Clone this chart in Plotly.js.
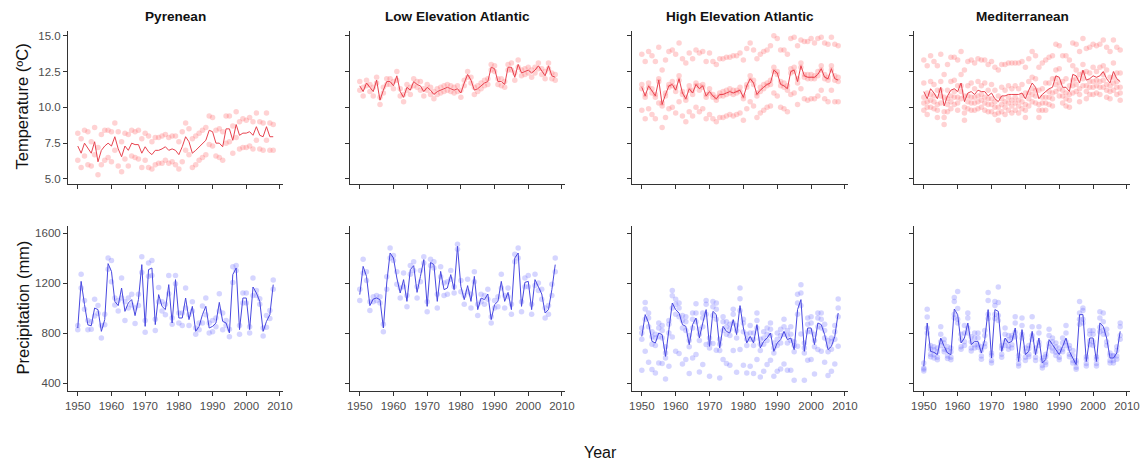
<!DOCTYPE html>
<html>
<head>
<meta charset="utf-8">
<script src="https://cdn.plot.ly/plotly-3.0.1.min.js"></script>
<style>
  html, body { margin: 0; padding: 0; background: #ffffff; }
  #chart { width: 1147px; height: 465px; }
</style>
</head>
<body>
<div id="chart"></div>
<script>
// ---- Data -------------------------------------------------------------
const years = [1950,1951,1952,1953,1954,1955,1956,1957,1958,1959,
               1960,1961,1962,1963,1964,1965,1966,1967,1968,1969,
               1970,1971,1972,1973,1974,1975,1976,1977,1978,1979,
               1980,1981,1982,1983,1984,1985,1986,1987,1988,1989,
               1990,1991,1992,1993,1994,1995,1996,1997,1998,1999,
               2000,2001,2002,2003,2004,2005,2006,2007,2008];

const regions = ["Pyrenean", "Low Elevation Atlantic", "High Elevation Atlantic", "Mediterranean"];

const xTicks = [1950, 1960, 1970, 1980, 1990, 2000, 2010];
const tempTicks = [5, 7.5, 10, 12.5, 15];
const tempTickText = ["5.0", "7.5", "10.0", "12.5", "15.0"];
const prcpTicks = [400, 800, 1200, 1600];

// Pyrenean temperature (ºC): regional mean and stations
const pyrTempMean = [7.3,6.8,7.5,7.1,6.8,7.6,6.2,7.0,7.3,7.5,
  7.3,7.95,7.1,6.55,7.3,7.0,7.5,7.4,7.4,6.8,
  7.25,6.9,6.7,7.0,7.0,7.1,7.25,7.0,7.1,7.0,
  6.7,7.25,7.95,7.6,6.8,7.0,7.25,7.5,7.7,8.4,
  8.3,7.5,7.5,7.25,8.5,8.5,7.7,8.8,8.05,8.2,
  8.2,8.3,8.05,8.65,8.05,7.95,8.65,7.95,7.95];
const pyrTempA = [8.2,7.8,8.4,8.3,7.6,8.6,7.2,8.1,8.4,8.4,
  8.3,8.9,8.3,7.6,8.2,8.1,8.4,8.3,8.4,7.8,
  8.2,8.0,7.6,7.9,7.9,8.0,8.1,7.9,8.0,8.0,
  7.6,8.3,8.9,8.5,7.8,8.0,8.2,8.4,8.6,9.4,
  9.3,8.4,8.5,8.3,9.4,9.4,8.7,9.7,9.0,9.2,
  9.1,9.3,9.0,9.6,9.0,8.9,9.6,8.9,8.8];
const pyrTempB = [6.3,5.8,6.6,6.0,5.9,6.7,5.3,6.0,6.3,6.5,
  6.2,7.0,5.9,5.5,6.4,5.9,6.6,6.5,6.4,5.8,
  6.3,5.8,5.7,6.0,6.1,6.1,6.3,6.1,6.2,6.0,
  5.7,6.2,7.0,6.7,5.8,6.0,6.3,6.5,6.7,7.4,
  7.3,6.6,6.5,6.3,7.5,7.6,6.8,7.9,7.1,7.2,
  7.2,7.3,7.1,7.7,7.1,7.0,7.7,7.0,7.0];

// Low Elevation Atlantic temperature
const leaTempMean = [11.5,11.1,11.7,11.4,11.1,11.9,10.5,11.2,11.8,11.8,
  11.5,12.2,11.1,10.7,11.4,11.2,11.8,11.6,11.5,11.1,
  11.4,11.2,10.9,11.1,11.2,11.3,11.4,11.3,11.2,11.3,
  11.0,11.7,12.3,11.9,11.2,11.3,11.5,11.7,11.8,12.8,
  12.7,11.8,11.8,11.6,12.8,12.8,12.1,13.0,12.4,12.5,
  12.6,12.4,12.6,12.9,12.5,12.2,12.9,12.2,12.1];
const leaTempA = [11.8,11.4,11.9,11.6,11.4,12.1,10.7,11.4,12.0,12.0,
  11.8,12.5,11.3,10.9,11.6,11.4,12.0,11.8,11.8,11.3,
  11.6,11.4,11.1,11.3,11.4,11.5,11.6,11.5,11.4,11.5,
  11.2,11.9,12.5,12.1,11.4,11.5,11.7,11.9,12.0,13.0,
  12.9,12.0,12.0,11.8,13.0,13.1,12.4,13.3,12.6,12.7,
  12.8,12.6,12.8,13.1,12.7,12.5,13.1,12.4,12.3];
const leaTempB = [11.2,10.8,11.5,11.1,10.8,11.7,10.2,11.0,11.6,11.6,
  11.3,11.9,10.8,10.4,11.2,10.9,11.5,11.4,11.2,10.8,
  11.2,10.9,10.6,10.9,11.0,11.1,11.2,11.1,11.0,11.1,
  10.7,11.5,12.1,11.7,10.9,11.1,11.3,11.5,11.6,12.6,
  12.5,11.6,11.5,11.4,12.6,12.6,11.9,12.8,12.2,12.3,
  12.4,12.1,12.4,12.7,12.3,12.0,12.7,12.0,11.9];

// High Elevation Atlantic temperature
const heaTempMean = [11.4,10.8,11.5,11.1,10.8,11.9,10.2,10.9,11.5,11.6,
  11.2,12.0,11.0,10.6,11.3,11.0,11.6,11.3,11.5,10.8,
  11.1,10.8,10.6,10.9,10.9,11.0,11.1,11.0,11.1,11.2,
  10.7,11.5,12.0,11.7,10.9,11.2,11.4,11.6,11.7,12.6,
  12.4,11.6,11.5,11.3,12.5,12.6,11.8,12.9,12.2,12.1,
  12.1,12.1,12.3,12.7,12.1,12.0,12.7,12.0,11.9];
const heaTempU = [13.7,13.2,13.9,13.6,13.2,14.2,12.6,13.3,13.9,14.0,
  13.7,14.5,13.4,13.1,13.8,13.4,14.0,13.8,13.9,13.2,
  13.8,13.2,13.0,13.4,13.4,13.5,13.5,13.6,13.6,13.8,
  13.3,14.1,14.5,14.0,13.4,13.7,13.9,14.0,14.3,15.0,
  14.8,14.0,14.0,13.7,14.8,14.9,14.3,14.7,14.6,14.6,
  14.8,14.5,14.8,14.9,14.5,14.4,14.9,14.4,14.3];
const heaTempM1 = [11.6,10.9,11.7,11.3,10.9,12.0,10.3,11.0,11.6,11.8,
  11.4,12.2,11.1,10.7,11.5,11.2,11.7,11.5,11.6,10.9,
  11.3,10.9,10.7,11.0,11.1,11.2,11.3,11.2,11.2,11.4,
  10.8,11.6,12.2,11.9,11.0,11.4,11.6,11.7,11.9,12.8,
  12.5,11.8,11.7,11.5,12.7,12.8,12.0,13.1,12.3,12.3,
  12.3,12.2,12.5,12.9,12.3,12.1,12.9,12.2,12.1];
const heaTempM2 = [11.3,10.7,11.4,11.0,10.7,11.8,10.1,10.8,11.4,11.5,
  11.1,11.9,10.9,10.5,11.2,10.9,11.5,11.2,11.4,10.7,
  11.0,10.7,10.5,10.8,10.8,10.9,11.0,10.9,11.0,11.1,
  10.6,11.4,11.9,11.6,10.8,11.1,11.3,11.5,11.6,12.5,
  12.3,11.5,11.4,11.2,12.4,12.5,11.7,12.8,12.1,12.0,
  12.0,12.0,12.2,12.6,12.0,11.9,12.6,11.9,11.8];
const heaTempL = [9.8,9.2,9.9,9.5,9.2,10.3,8.6,9.3,9.9,10.0,
  9.6,10.4,9.4,9.0,9.7,9.4,10.0,9.7,9.9,9.2,
  9.5,9.2,9.0,9.3,9.3,9.4,9.5,9.4,9.5,9.6,
  9.1,9.9,10.4,10.1,9.3,9.6,9.8,10.0,10.1,11.0,
  10.8,10.0,9.9,9.7,10.9,11.0,10.2,11.3,10.6,10.5,
  10.6,10.6,10.8,11.2,10.6,10.4,11.2,10.4,10.4];

// Mediterranean temperature
const medTempMean = [11.1,10.6,11.3,11.0,10.6,11.4,10.1,10.8,11.2,11.3,
  11.1,11.7,10.4,11.0,11.1,10.9,11.2,11.1,11.1,10.8,
  11.0,10.6,10.4,10.8,10.8,10.9,10.9,10.9,10.9,11.0,
  10.6,11.2,11.7,11.4,10.6,10.9,11.1,11.3,11.4,12.2,
  12.1,11.4,11.4,11.1,12.3,12.2,11.7,12.6,11.9,12.0,
  12.2,12.1,12.2,12.5,12.0,11.7,12.5,12.0,11.8];
const medTempU = [13.3,12.9,13.6,13.2,12.9,13.7,12.3,13.0,13.5,13.5,
  13.3,13.9,12.6,13.2,13.3,13.1,13.4,13.3,13.3,13.0,
  13.2,12.8,12.6,13.0,13.0,13.1,13.1,13.1,13.1,13.2,
  12.8,13.4,13.9,13.6,12.8,13.1,13.3,13.5,13.6,14.4,
  14.3,13.6,13.6,13.3,14.5,14.4,13.9,14.8,14.1,14.2,
  14.4,14.3,14.4,14.7,14.2,13.9,14.7,14.2,14.0];
const medTempA = [11.7,11.0,11.8,11.6,11.2,11.8,10.7,11.2,11.8,11.9,
  11.5,12.3,10.8,11.5,11.7,11.3,11.8,11.5,11.7,11.2,
  11.6,11.2,10.8,11.4,11.2,11.5,11.3,11.5,11.3,11.6,
  11.0,11.8,12.1,12.0,11.2,11.3,11.7,11.7,12.0,12.6,
  12.7,11.8,12.0,11.5,12.9,12.6,12.3,13.0,12.5,12.4,
  12.8,12.5,12.8,12.9,12.6,12.1,13.1,12.4,12.4];
const medTempB = [10.7,10.4,10.9,10.8,10.2,11.2,9.7,10.6,10.8,11.1,
  10.7,11.5,10.0,10.8,10.7,10.7,10.8,10.9,10.7,10.6,
  10.6,10.4,10.0,10.6,10.4,10.7,10.5,10.7,10.5,10.8,
  10.2,11.0,11.3,11.2,10.2,10.7,10.7,11.1,11.0,12.0,
  11.7,11.2,11.0,10.9,11.9,12.0,11.3,12.4,11.5,11.8,
  11.8,11.9,11.8,12.3,11.6,11.5,12.1,11.8,11.4];
const medTempC = [10.3,10.0,10.5,10.4,9.8,10.8,9.3,10.2,10.4,10.7,
  10.3,11.1,9.6,10.4,10.3,10.3,10.4,10.5,10.3,10.2,
  10.2,10.0,9.6,10.2,10.0,10.3,10.1,10.3,10.1,10.4,
  9.8,10.6,10.9,10.8,9.8,10.3,10.3,10.7,10.6,11.6,
  11.3,10.8,10.6,10.5,11.5,11.6,10.9,12.0,11.1,11.4,
  11.4,11.5,11.4,11.9,11.2,11.1,11.7,11.4,11.0];
const medTempD = [9.8,9.5,10.0,9.9,9.3,10.3,8.8,9.7,9.9,10.2,
  9.8,10.6,9.1,9.9,9.8,9.8,9.9,10.0,9.8,9.7,
  9.7,9.5,9.1,9.7,9.5,9.8,9.6,9.8,9.6,9.9,
  9.3,10.1,10.4,10.3,9.3,9.8,9.8,10.2,10.1,11.1,
  10.8,10.3,10.1,10.0,11.0,11.1,10.4,11.5,10.6,10.9,
  10.9,11.0,10.9,11.4,10.7,10.6,11.2,10.9,10.5];

// Pyrenean precipitation (mm)
const pyrPrcpMean = [840,1213,1027,865,858,1000,987,813,907,1355,
  1293,1053,1019,1160,973,1040,1067,939,1067,1347,
  853,1307,1320,867,1107,1013,987,1187,880,1227,
  920,920,1080,907,1013,813,853,947,1013,840,
  853,880,1045,893,880,800,1267,1320,827,1080,
  1080,827,1168,1120,1053,813,893,947,1187];
const pyrPrcpA = [860,1270,1060,900,890,1070,1020,860,950,1400,
  1380,1080,1060,1240,1050,1080,1110,1000,1110,1410,
  900,1360,1380,910,1165,1050,1030,1260,920,1260,
  960,960,1160,945,1050,840,880,1015,1080,880,
  900,920,1115,960,900,830,1330,1340,860,1120,
  1120,850,1240,1140,1075,840,940,980,1225];
const pyrPrcpB = [825,1160,990,825,830,935,955,760,865,1310,
  1210,1025,975,1080,900,1000,1025,875,1020,1285,
  805,1255,1260,820,1050,975,945,1115,870,1195,
  880,860,1000,860,975,790,825,880,945,800,
  810,850,975,825,860,770,1205,1300,790,1040,
  1040,800,1100,1100,1030,775,845,915,1150];

// Low Elevation Atlantic precipitation
const leaPrcpMean = [1107,1333,1253,1019,1072,1080,1067,840,1200,1440,
  1400,1240,1120,1227,1053,1307,1339,1125,1253,1387,
  1013,1365,1347,1053,1293,1147,1160,1267,1147,1493,
  1173,1067,1179,1053,1253,987,1080,1067,1112,907,
  1027,1053,1213,1053,1125,987,1400,1440,1013,1205,
  1213,987,1227,1173,1112,960,987,1147,1347];
const leaPrcpA = [1150,1390,1290,1050,1090,1100,1090,870,1250,1480,
  1420,1290,1160,1280,1100,1340,1370,1170,1300,1410,
  1050,1390,1370,1110,1330,1200,1210,1300,1170,1510,
  1220,1100,1230,1110,1290,1030,1110,1100,1150,930,
  1060,1090,1270,1100,1160,1030,1430,1480,1050,1240,
  1260,1030,1270,1200,1150,1000,1020,1190,1400];
const leaPrcpB = [1060,1280,1220,980,1050,1060,1040,810,1150,1400,
  1380,1190,1080,1170,1010,1270,1300,1080,1210,1360,
  970,1340,1320,1000,1250,1100,1110,1230,1120,1470,
  1130,1030,1130,1000,1210,940,1050,1030,1070,880,
  1000,1010,1160,1000,1090,950,1370,1400,970,1170,
  1170,950,1180,1140,1070,920,950,1100,1290];

// High Elevation Atlantic precipitation
const heaPrcpMean = [773,947,880,733,720,800,787,613,827,1040,
  987,960,867,853,707,867,920,760,880,987,
  693,973,947,680,853,813,800,907,787,1019,
  840,720,773,720,867,680,733,760,800,653,
  720,747,813,747,760,667,987,1067,653,840,
  840,707,880,867,787,667,693,773,960];
const heaPrcpS1 = [840,1045,960,810,790,880,860,690,900,1141,
  1070,1040,940,930,780,960,1035,830,960,1060,
  760,1053,1040,750,930,890,870,990,860,1160,
  910,790,860,800,960,750,810,840,880,720,
  800,830,910,820,850,730,1110,1187,720,920,
  930,790,960,960,870,740,760,860,1072];
const heaPrcpS2 = [800,992,920,770,760,840,820,640,870,1099,
  1030,1000,900,890,740,910,960,790,920,1030,
  720,1010,990,710,890,850,830,950,820,1075,
  880,750,800,750,900,710,760,790,830,680,
  750,780,850,780,790,700,1040,1120,680,870,
  880,740,920,910,820,700,730,810,1000];
const heaPrcpS3 = [750,910,850,710,700,770,760,600,800,1000,
  950,930,840,820,690,840,890,740,850,950,
  680,940,910,660,820,790,780,880,760,980,
  810,700,750,700,840,660,710,740,780,640,
  700,720,790,720,740,650,950,1020,640,810,
  810,690,850,840,760,650,670,750,930];
const heaPrcpS4 = [501,653,565,507,480,560,555,432,533,768,
  653,635,552,587,475,600,627,488,547,707,
  453,715,661,440,587,555,541,659,485,667,
  541,480,533,475,587,448,493,547,581,453,
  493,512,552,501,501,421,693,792,421,581,
  587,472,667,653,565,459,493,552,693];

// Mediterranean precipitation
const medPrcpMean = [533,880,653,645,627,760,693,640,627,992,
  947,720,760,880,707,733,733,640,747,987,
  600,987,973,653,760,720,733,840,573,827,
  627,653,813,627,760,560,587,747,707,667,
  627,693,760,653,600,547,947,947,573,760,
  760,573,880,853,760,600,600,640,813];
const medPrcpA = [560,990,700,690,680,850,750,690,680,1085,
  1133,790,860,960,770,800,800,690,820,1125,
  640,1053,1168,700,840,780,780,930,620,920,
  680,700,930,680,850,600,630,830,760,720,
  680,760,860,700,660,580,1053,1000,610,820,
  820,610,970,960,830,640,620,690,880];
const medPrcpB = [520,928,670,665,650,790,720,660,650,1053,
  995,750,800,920,730,760,760,660,780,1061,
  620,1019,1045,675,790,745,760,880,590,860,
  650,675,850,650,800,580,610,780,730,690,
  650,720,800,675,620,560,960,980,590,790,
  790,590,920,890,790,620,615,660,850];
const medPrcpC = [510,840,630,625,605,730,670,615,605,950,
  910,690,730,840,680,705,705,615,715,950,
  580,950,940,630,730,695,705,805,555,790,
  605,630,780,605,725,540,565,715,680,645,
  605,670,730,630,580,525,910,910,555,735,
  730,555,845,820,730,580,580,615,780];
const medPrcpD = [495,800,610,600,585,700,650,595,585,920,
  880,670,700,800,655,680,685,590,690,915,
  560,915,900,605,700,670,680,770,535,760,
  580,610,750,580,700,520,545,690,655,620,
  585,650,700,610,560,510,870,880,535,705,
  700,535,810,790,700,560,560,590,750];

const tempMeans = [pyrTempMean, leaTempMean, heaTempMean, medTempMean];
const tempStations = [
  [pyrTempA, pyrTempB],
  [leaTempA, leaTempB],
  [heaTempU, heaTempM1, heaTempM2, heaTempL],
  [medTempU, medTempA, medTempB, medTempC, medTempD]
];
const prcpMeans = [pyrPrcpMean, leaPrcpMean, heaPrcpMean, medPrcpMean];
const prcpStations = [
  [pyrPrcpA, pyrPrcpB],
  [leaPrcpA, leaPrcpB],
  [heaPrcpS1, heaPrcpS2, heaPrcpS3, heaPrcpS4],
  [medPrcpA, medPrcpB, medPrcpC, medPrcpD]
];

// ---- Layout geometry (pixels) -----------------------------------------
const W = 1147, H = 465;
const colPx = [[68, 283], [350, 565], [632, 848], [914, 1130]];
const tempRowPx = [31, 184];
const prcpRowPx = [226, 391];

const FONT = "Liberation Sans, Arial, Helvetica, sans-serif";
const AXIS_COLOR = "#333333";
const TICK_FONT = { family: FONT, size: 11.5, color: "#4d4d4d" };

const tempStyle = { line: "#e8434f", pts: "rgba(255,105,110,0.30)" };
const prcpStyle = { line: "#4848e0", pts: "rgba(105,105,255,0.28)" };

function xDom(c) { return [colPx[c][0] / W, colPx[c][1] / W]; }
function yDom(row) { return [1 - row[1] / H, 1 - row[0] / H]; }

const traces = [];
const layout = {
  width: W, height: H,
  margin: { l: 0, r: 0, t: 0, b: 0 },
  paper_bgcolor: "#ffffff",
  plot_bgcolor: "#ffffff",
  showlegend: false,
  font: { family: FONT },
  annotations: []
};

function axisBase(extra) {
  return Object.assign({
    showline: true, linecolor: AXIS_COLOR, linewidth: 1,
    ticks: "outside", ticklen: 4, tickwidth: 1, tickcolor: AXIS_COLOR,
    showgrid: false, zeroline: false, tickfont: TICK_FONT,
    fixedrange: true
  }, extra);
}

function addPanel(idx, col, rowPx, means, stations, style, yRange, yTicks, yTickText, showX) {
  const xa = "x" + (idx === 1 ? "" : idx);
  const ya = "y" + (idx === 1 ? "" : idx);
  stations.forEach(function (s) {
    traces.push({
      type: "scatter", mode: "markers", x: years, y: s,
      xaxis: xa, yaxis: ya, hoverinfo: "skip",
      marker: { size: 5.5, color: style.pts, line: { width: 0 } }
    });
  });
  traces.push({
    type: "scatter", mode: "lines", x: years, y: means,
    xaxis: xa, yaxis: ya,
    line: { color: style.line, width: 1 }
  });
  layout["xaxis" + (idx === 1 ? "" : idx)] = axisBase({
    domain: xDom(col), anchor: ya, range: [1947.1, 2010.9],
    tickmode: "array", tickvals: xTicks, ticktext: xTicks.map(String),
    showticklabels: showX
  });
  layout["yaxis" + (idx === 1 ? "" : idx)] = axisBase({
    domain: yDom(rowPx), anchor: xa, range: yRange,
    tickmode: "array", tickvals: yTicks, ticktext: yTickText,
    showticklabels: col === 0
  });
}

for (let c = 0; c < 4; c++) {
  addPanel(c + 1, c, tempRowPx, tempMeans[c], tempStations[c], tempStyle,
           [4.65, 15.33], tempTicks, tempTickText, false);
  addPanel(c + 5, c, prcpRowPx, prcpMeans[c], prcpStations[c], prcpStyle,
           [336, 1656], prcpTicks, prcpTicks.map(String), true);
  // region title above each column
  layout.annotations.push({
    xref: "paper", yref: "paper",
    x: (colPx[c][0] + colPx[c][1]) / 2 / W, y: 1 - 16 / H,
    xanchor: "center", yanchor: "middle", showarrow: false,
    text: "<b>" + regions[c] + "</b>",
    font: { family: FONT, size: 13.6, color: "#111111" }
  });
}

// axis titles
layout.annotations.push({
  xref: "paper", yref: "paper", x: 22 / W, y: 1 - 106.5 / H,
  xanchor: "center", yanchor: "middle", showarrow: false, textangle: -90,
  text: "Temperature (ºC)", font: { family: FONT, size: 16.5, color: "#111111" }
});
layout.annotations.push({
  xref: "paper", yref: "paper", x: 22 / W, y: 1 - 307.5 / H,
  xanchor: "center", yanchor: "middle", showarrow: false, textangle: -90,
  text: "Precipitation (mm)", font: { family: FONT, size: 16.5, color: "#111111" }
});
layout.annotations.push({
  xref: "paper", yref: "paper", x: 600 / W, y: 1 - 452 / H,
  xanchor: "center", yanchor: "middle", showarrow: false,
  text: "Year", font: { family: FONT, size: 16, color: "#111111" }
});

Plotly.newPlot("chart", traces, layout, { displayModeBar: false, staticPlot: true });
</script>
</body>
</html>
